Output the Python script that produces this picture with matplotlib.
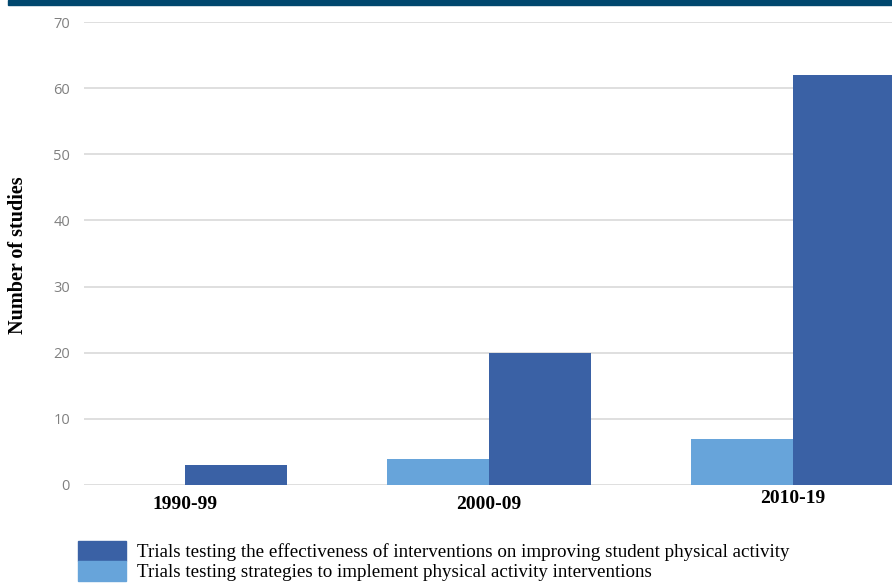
import matplotlib
matplotlib.use("Agg")
import matplotlib.pyplot as plt
import matplotlib.transforms as mtransforms
import numpy as np
from matplotlib.patches import Patch, Rectangle

decades = ["1990-99", "2000-09", "2010-19"]
effectiveness = [3, 20, 62]
implementation = [0, 4, 7]
yticks = [0, 10, 20, 30, 40, 50, 60, 70]

DARK = "#3A61A5"
LIGHT = "#67A4DA"

fig = plt.figure(figsize=(8.92, 5.83), dpi=100)
W, H = 892, 583
ax = fig.add_axes([84 / W, 1 - 485 / H, (892 - 84) / W, (485 - 22) / H])

# top banner
fig.patches.append(Rectangle((8 / W, 1 - 5 / H), 1, 5 / H, transform=fig.transFigure,
                             color="#00476E", zorder=5))

x = np.arange(len(decades))
width = 0.335
ax.bar(x - width / 2, implementation, width, color=LIGHT, zorder=3)
ax.bar(x + width / 2, effectiveness, width, color=DARK, zorder=3)

ax.set_xlim(-0.332, 2.326)
ax.set_ylim(0, 70)
ax.set_yticks(yticks)
ax.grid(axis="y", color="#d9d9d9", linewidth=1.2, zorder=0)
for s in ax.spines.values():
    s.set_visible(False)
ax.tick_params(axis="y", length=0, pad=10, labelsize=10.5, labelcolor="#808080")
for lab in ax.get_yticklabels():
    lab.set_fontfamily("Open Sans")

ax.set_xticks(x)
ax.set_xticklabels([])
ax.tick_params(axis="x", length=0)
# category labels (the last one sits a bit higher in the original)
offsets = [0, 0, 6]
for xi, name, off in zip(x, decades, offsets):
    tr = ax.get_xaxis_transform() + mtransforms.ScaledTranslation(0, (-11 + off) / 100, fig.dpi_scale_trans)
    ax.text(xi, 0, name, transform=tr, ha="center", va="top",
            fontfamily="Liberation Serif", fontweight="bold", fontsize=14)

fig.text(18 / W, 1 - 255 / H, "Number of studies", rotation=90, ha="center", va="center",
         fontfamily="Liberation Serif", fontweight="bold", fontsize=14.5)

handles = [Patch(color=DARK), Patch(color=LIGHT)]
labels = ["Trials testing the effectiveness of interventions on improving student physical activity",
          "Trials testing strategies to implement physical activity interventions"]
fig.legend(handles, labels, loc="upper left", bbox_to_anchor=(76 / W, 1 - 539 / H),
           frameon=False, prop={"family": "Liberation Serif", "size": 13.7},
           handlelength=2.55, handleheight=1.22, handletextpad=0.55, labelspacing=0.0,
           borderpad=0.1, borderaxespad=0)

fig.savefig("out.png", dpi=100)
